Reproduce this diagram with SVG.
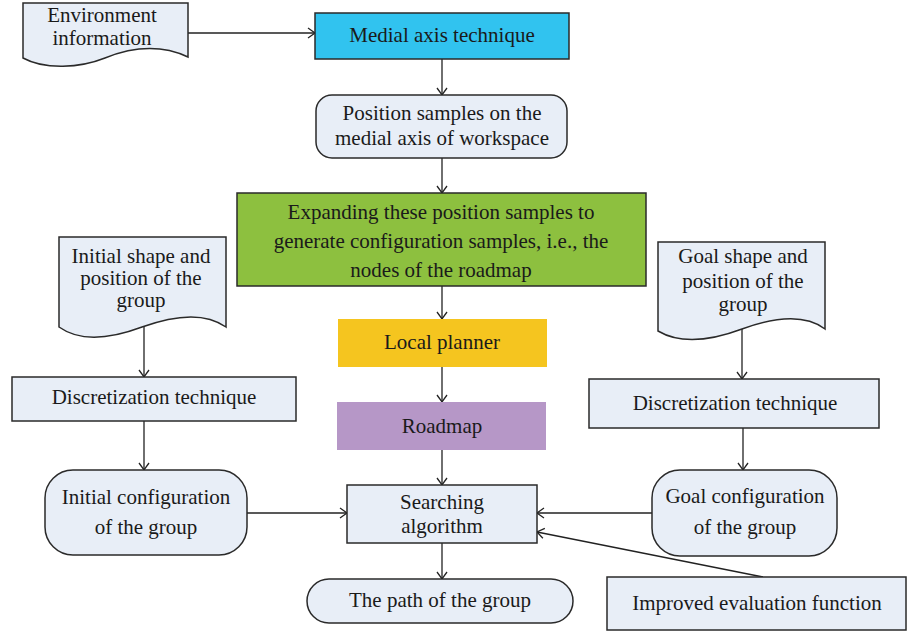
<svg xmlns="http://www.w3.org/2000/svg" width="907" height="633" viewBox="0 0 907 633">
<defs>
<marker id="arr" markerUnits="userSpaceOnUse" markerWidth="12" markerHeight="12" refX="9" refY="6" orient="auto">
<path d="M2,1 L9,6 L2,11" fill="none" stroke="#222" stroke-width="1.3"/>
</marker>
</defs>
<style>
.box{fill:#e8eef7;stroke:#2a2a2a;stroke-width:1.5}
.t{font-family:"Liberation Serif","Times New Roman",serif;font-size:21px;fill:#1a1a1a;text-anchor:middle}
.c{stroke:#222;stroke-width:1.3;fill:none;marker-end:url(#arr)}
</style>
<rect width="907" height="633" fill="#fff"/>
<g id="connectors">
<line class="c" x1="188" y1="33" x2="315" y2="33"/>
<line class="c" x1="442" y1="59" x2="442" y2="95"/>
<line class="c" x1="442" y1="158" x2="442" y2="193"/>
<line class="c" x1="442" y1="286" x2="442" y2="319"/>
<line class="c" x1="442" y1="367" x2="442" y2="402"/>
<line class="c" x1="442" y1="450" x2="442" y2="485"/>
<line class="c" x1="442" y1="543" x2="442" y2="579"/>
<line class="c" x1="144" y1="327" x2="144" y2="377"/>
<line class="c" x1="144" y1="421" x2="144" y2="470"/>
<line class="c" x1="247" y1="513" x2="347" y2="513"/>
<line class="c" x1="742" y1="329" x2="742" y2="379"/>
<line class="c" x1="743" y1="428" x2="743" y2="470"/>
<line class="c" x1="652" y1="513" x2="537" y2="513"/>
<line class="c" x1="763" y1="577" x2="537" y2="532"/>
</g>
<g id="env">
<path class="box" d="M23,3 H188 V57 C160,44 130,48 105,58 C80,68 45,70 23,58 Z"/>
<text class="t" x="102" y="22">Environment</text>
<text class="t" x="102" y="45">information</text>
</g>
<g id="medial">
<rect x="315" y="13" width="254" height="46" fill="#31c3ef" stroke="#2a2a2a" stroke-width="1.5"/>
<text class="t" x="442" y="42">Medial axis technique</text>
</g>
<g id="position">
<rect class="box" x="316" y="95" width="251" height="63" rx="16"/>
<text class="t" x="442" y="120">Position samples on the</text>
<text class="t" x="442" y="145">medial axis of workspace</text>
</g>
<g id="expand">
<rect x="237" y="193" width="409" height="93" fill="#8dc03f" stroke="#2a2a2a" stroke-width="1.5"/>
<text class="t" x="441" y="219">Expanding these position samples to</text>
<text class="t" x="441" y="248">generate configuration samples, i.e., the</text>
<text class="t" x="441" y="277">nodes of the roadmap</text>
</g>
<g id="local">
<rect x="338" y="319" width="209" height="48" fill="#f5c51f"/>
<text class="t" x="442" y="349">Local planner</text>
</g>
<g id="roadmap">
<rect x="337" y="402" width="209" height="48" fill="#b697c7"/>
<text class="t" x="442" y="433">Roadmap</text>
</g>
<g id="initshape">
<path class="box" d="M59,237 H226 V327 C205,312 175,315 142,327 C110,339 80,342 59,327 Z"/>
<text class="t" x="141" y="263">Initial shape and</text>
<text class="t" x="141" y="285">position of the</text>
<text class="t" x="141" y="307">group</text>
</g>
<g id="disc-left">
<rect class="box" x="12" y="377" width="284" height="44"/>
<text class="t" x="154" y="404">Discretization technique</text>
</g>
<g id="initconf">
<rect class="box" x="45" y="470" width="202" height="85" rx="28"/>
<text class="t" x="146" y="504">Initial configuration</text>
<text class="t" x="146" y="534">of the group</text>
</g>
<g id="goalshape">
<path class="box" d="M658,242 H825 V329 C805,314 775,317 742,329 C710,341 680,344 658,331 Z"/>
<text class="t" x="743" y="263">Goal shape and</text>
<text class="t" x="743" y="288">position of the</text>
<text class="t" x="743" y="311">group</text>
</g>
<g id="disc-right">
<rect class="box" x="589" y="379" width="290" height="49"/>
<text class="t" x="735" y="410">Discretization technique</text>
</g>
<g id="goalconf">
<rect class="box" x="652" y="470" width="185" height="86" rx="28"/>
<text class="t" x="745" y="503">Goal configuration</text>
<text class="t" x="745" y="534">of the group</text>
</g>
<g id="search">
<rect class="box" x="347" y="485" width="190" height="58"/>
<text class="t" x="442" y="509">Searching</text>
<text class="t" x="442" y="533">algorithm</text>
</g>
<g id="path">
<rect class="box" x="307" y="579" width="266" height="44" rx="22"/>
<text class="t" x="440" y="607">The path of the group</text>
</g>
<g id="improved">
<rect class="box" x="607" y="577" width="299" height="53"/>
<text class="t" x="757" y="610">Improved evaluation function</text>
</g>
</svg>
